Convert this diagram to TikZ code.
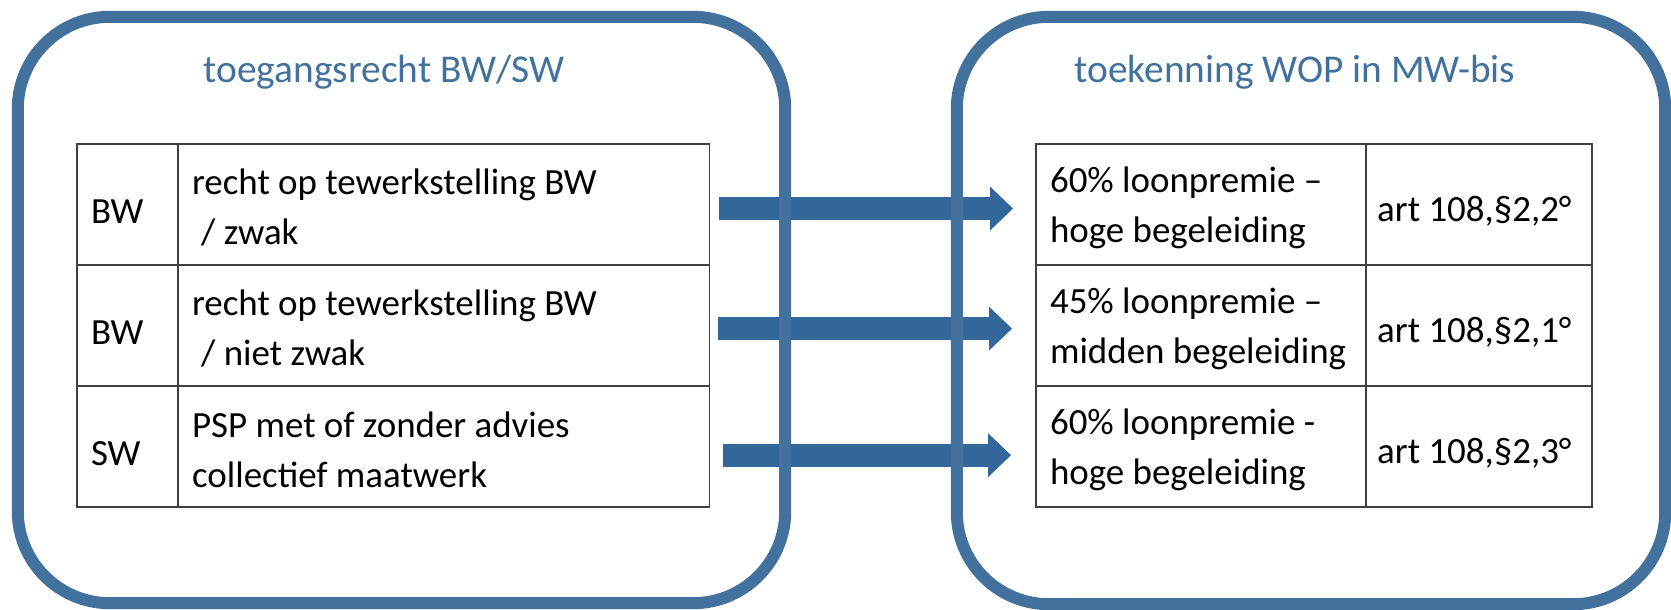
\documentclass[tikz,border=0pt]{standalone}
\usepackage{fontspec}
\setmainfont{Carlito}
\usepackage{tikz}
\usetikzlibrary{positioning,arrows.meta}
\definecolor{panelBlue}{RGB}{65,113,156}
\definecolor{arrowBlue}{RGB}{52,103,153}
\definecolor{ruleGray}{RGB}{64,64,64}
\newcommand{\cellSize}[0]{\fontsize{10.5}{14.2}\selectfont}
\newcommand{\headSize}[0]{\fontsize{11.2}{13}\selectfont}
\newcommand{\indentLine}[0]{\hspace*{2.6pt}}

\begin{document}
\begin{tikzpicture}[x=0.01cm, y=-0.01cm]
  \tikzset{cell/.style={draw=ruleGray, line width=0.5pt, outer sep=0pt, anchor=north west,
      minimum height=1.21cm, inner xsep=0.14cm, inner ysep=0pt, align=flush left, font=\cellSize,
      execute at begin node={\rule{0pt}{9pt}}},
    single/.style={execute at begin node={\rule{0pt}{10.8pt}}},
    keycol/.style={cell, single, text width=0.73cm},
    desccol/.style={cell, text width=5.03cm},
    premcol/.style={cell, text width=3.02cm},
    artcol/.style={cell, single, text width=2.04cm, inner xsep=0.11cm},
    bigarrow/.style={draw=arrowBlue, line width=0.23cm,
      -{Triangle[width=0.44cm, length=0.23cm, line width=0pt]}},
    panel/.style={draw=panelBlue, line width=0.12cm, rounded corners=0.92cm},
    paneltitle/.style={text=panelBlue, font=\headSize, anchor=base, inner sep=0pt}}
  \useasboundingbox (0,0) rectangle (1671,609);
  % left table
  \node[keycol] (la1) at (77,144) {BW};
  \node[desccol, right=0pt of la1] (lb1) {recht op tewerkstelling BW\\\indentLine/ zwak};
  \node[keycol, below=0pt of la1] (la2) {BW};
  \node[desccol, right=0pt of la2] (lb2) {recht op tewerkstelling BW\\\indentLine/ niet zwak};
  \node[keycol, below=0pt of la2] (la3) {SW};
  \node[desccol, right=0pt of la3] (lb3) {PSP met of zonder advies\\collectief maatwerk};
  % right table
  \node[premcol] (ra1) at (1036,144) {60\% loonpremie --\\hoge begeleiding};
  \node[artcol, right=0pt of ra1] (rb1) {art 108,§2,2°};
  \node[premcol, below=0pt of ra1] (ra2) {45\% loonpremie --\\midden begeleiding};
  \node[artcol, right=0pt of ra2] (rb2) {art 108,§2,1°};
  \node[premcol, below=0pt of ra2] (ra3) {60\% loonpremie -\\hoge begeleiding};
  \node[artcol, right=0pt of ra3] (rb3) {art 108,§2,3°};
  % arrows
  \draw[bigarrow] ([shift={(10,4)}]lb1.east) -- ([shift={(-23,4)}]ra1.west);
  \draw[bigarrow] ([shift={(9,3)}]lb2.east) -- ([shift={(-24,3)}]ra2.west);
  \draw[bigarrow] ([shift={(14,8.5)}]lb3.east) -- ([shift={(-25,8.5)}]ra3.west);
  % panels
  \node[panel, minimum width=7.67cm, minimum height=5.86cm] (lpanel) at (401.5,310) {};
  \node[panel, minimum width=7.08cm, minimum height=5.87cm] (rpanel) at (1311,310.5) {};
  \node[paneltitle] (ltitle) at (384,82) {toegangsrecht BW/SW};
  \node[paneltitle] (rtitle) at (1295,82) {toekenning WOP in MW-bis};
\end{tikzpicture}
\end{document}
